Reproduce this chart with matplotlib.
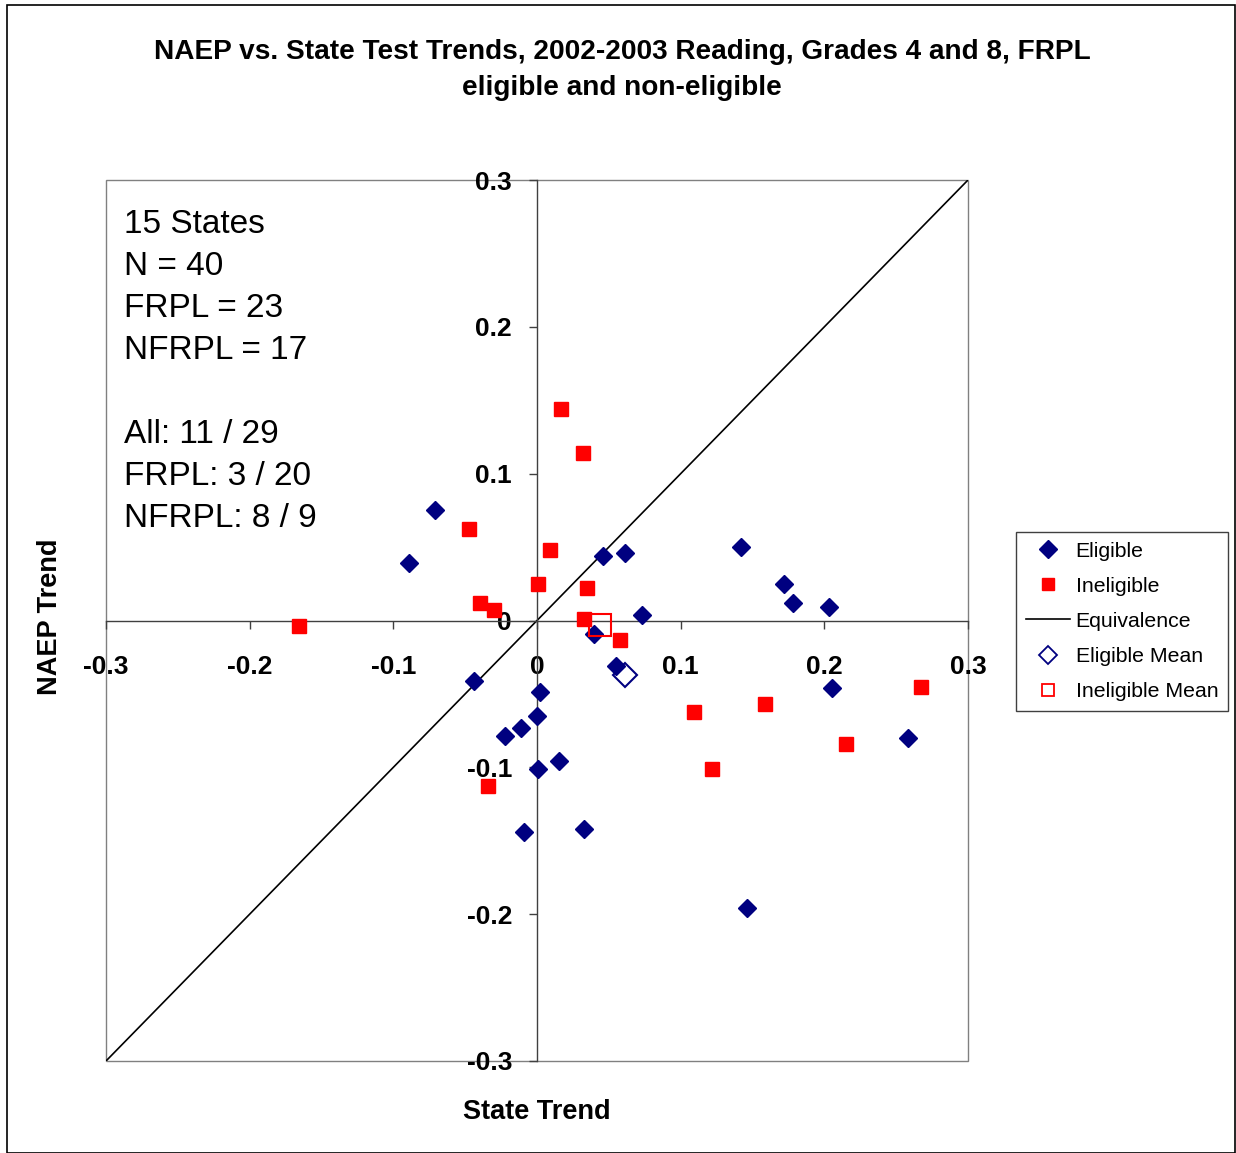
import matplotlib
matplotlib.use("Agg")
import matplotlib.pyplot as plt
from matplotlib.patches import Rectangle
from matplotlib.lines import Line2D

plt.rcParams['font.family'] = ['Liberation Sans', 'DejaVu Sans']

# eligible (FRPL) points: state trend, naep trend
elig_x = [-0.089, -0.071, 0.046, 0.061, 0.073, 0.040, 0.055, 0.142, 0.172, 0.178,
          0.203, 0.205, 0.258, -0.044, 0.002, -0.011, -0.022, 0.000, 0.001, 0.015,
          -0.009, 0.033, 0.146]
elig_y = [0.039, 0.075, 0.044, 0.046, 0.004, -0.009, -0.031, 0.050, 0.025, 0.012,
          0.009, -0.046, -0.080, -0.041, -0.049, -0.073, -0.079, -0.065, -0.101, -0.096,
          -0.144, -0.142, -0.196]
# ineligible (NFRPL) points
inel_x = [-0.166, -0.047, -0.040, -0.030, 0.001, 0.009, 0.017, 0.032, 0.035, 0.033,
          0.058, 0.109, 0.122, 0.159, 0.215, 0.267, -0.034]
inel_y = [-0.004, 0.062, 0.012, 0.007, 0.025, 0.048, 0.144, 0.114, 0.022, 0.001,
          -0.013, -0.062, -0.101, -0.057, -0.084, -0.045, -0.113]
elig_mean = (0.061, -0.037)
inel_mean = (0.044, -0.003)

ticks = [-0.3, -0.2, -0.1, 0, 0.1, 0.2, 0.3]
tick_labels = ['-0.3', '-0.2', '-0.1', '0', '0.1', '0.2', '0.3']
info = ['15 States', 'N = 40', 'FRPL = 23', 'NFRPL = 17', '',
        'All: 11 / 29', 'FRPL: 3 / 20', 'NFRPL: 8 / 9']

navy = '#000080'
red = '#FF0000'

fig = plt.figure(figsize=(12.36, 11.53), dpi=100)
fig.patches.append(Rectangle((7/1236, 0), 1228/1236, 1 - 5/1153, transform=fig.transFigure,
                             fill=False, edgecolor='black', linewidth=1.2))
ax = fig.add_axes([106/1236, 1 - 1061/1153, 862/1236, 881/1153])

ax.plot([-0.3, 0.3], [-0.3, 0.3], color='black', linewidth=1.2, zorder=2)
ax.plot(elig_x, elig_y, linestyle='none', marker='D', markersize=9.5,
        color=navy, markeredgecolor=navy, zorder=3)
ax.plot(inel_x, inel_y, linestyle='none', marker='s', markersize=9.5,
        color=red, markeredgecolor=red, zorder=3)
ax.plot([elig_mean[0]], [elig_mean[1]], linestyle='none', marker='D', markersize=12,
        markerfacecolor='none', markeredgecolor=navy, markeredgewidth=1.5, zorder=4)
ax.plot([inel_mean[0]], [inel_mean[1]], linestyle='none', marker='s', markersize=16,
        markerfacecolor='none', markeredgecolor=red, markeredgewidth=1.5, zorder=4)

ax.set_xlim(-0.3, 0.3)
ax.set_ylim(-0.3, 0.3)
ax.spines['left'].set_position('zero')
ax.spines['bottom'].set_position('zero')
ax.spines['right'].set_visible(False)
ax.spines['top'].set_visible(False)
for s in ['left', 'bottom']:
    ax.spines[s].set_color('#404040')
    ax.spines[s].set_linewidth(1.0)
ax.add_patch(Rectangle((0, 0), 1, 1, transform=ax.transAxes, fill=False,
                       edgecolor='#808080', linewidth=1.0, zorder=1, clip_on=False))

ax.set_xticks(ticks)
ax.set_xticklabels(tick_labels)
ax.set_yticks(ticks)
ax.set_yticklabels(tick_labels)
ax.tick_params(axis='x', direction='out', length=6, width=1, color='#404040',
               pad=19, labelsize=19)
ax.tick_params(axis='y', direction='out', length=6, width=1, color='#404040',
               pad=12, labelsize=19)
for lab in ax.get_xticklabels() + ax.get_yticklabels():
    lab.set_fontweight('bold')

ax.text(18/862, 1 - 29/881, '\n'.join(info), transform=ax.transAxes,
        fontsize=24, va='top', ha='left', linespacing=1.46)

fig.text(622/1236, 1 - 52/1153, 'NAEP vs. State Test Trends, 2002-2003 Reading, Grades 4 and 8, FRPL',
         ha='center', va='center', fontsize=20.2, fontweight='bold')
fig.text(622/1236, 1 - 88/1153, 'eligible and non-eligible',
         ha='center', va='center', fontsize=20.2, fontweight='bold')
fig.text(537/1236, 1 - 1112/1153, 'State Trend', ha='center', va='center',
         fontsize=19.5, fontweight='bold')
fig.text(50/1236, 1 - 617/1153, 'NAEP Trend', ha='center', va='center',
         fontsize=19.5, fontweight='bold', rotation=90)

handles = [
    Line2D([], [], linestyle='none', marker='D', markersize=9, color=navy),
    Line2D([], [], linestyle='none', marker='s', markersize=9, color=red),
    Line2D([], [], color='black', linewidth=1.2),
    Line2D([], [], linestyle='none', marker='D', markersize=9, markerfacecolor='none',
           markeredgecolor=navy, markeredgewidth=1.3),
    Line2D([], [], linestyle='none', marker='s', markersize=9, markerfacecolor='none',
           markeredgecolor=red, markeredgewidth=1.3),
]
labels = ['Eligible', 'Ineligible', 'Equivalence', 'Eligible Mean', 'Ineligible Mean']
leg = fig.legend(handles, labels, loc='upper left', bbox_to_anchor=(1016/1236, 1 - 532/1153),
                 fontsize=15.3, frameon=True, fancybox=False, framealpha=1,
                 edgecolor='#404040', handlelength=2.1, handletextpad=0.25,
                 labelspacing=0.76, borderpad=0.45, borderaxespad=0)
leg.get_frame().set_linewidth(1.0)

fig.savefig('out.png', dpi=100)
